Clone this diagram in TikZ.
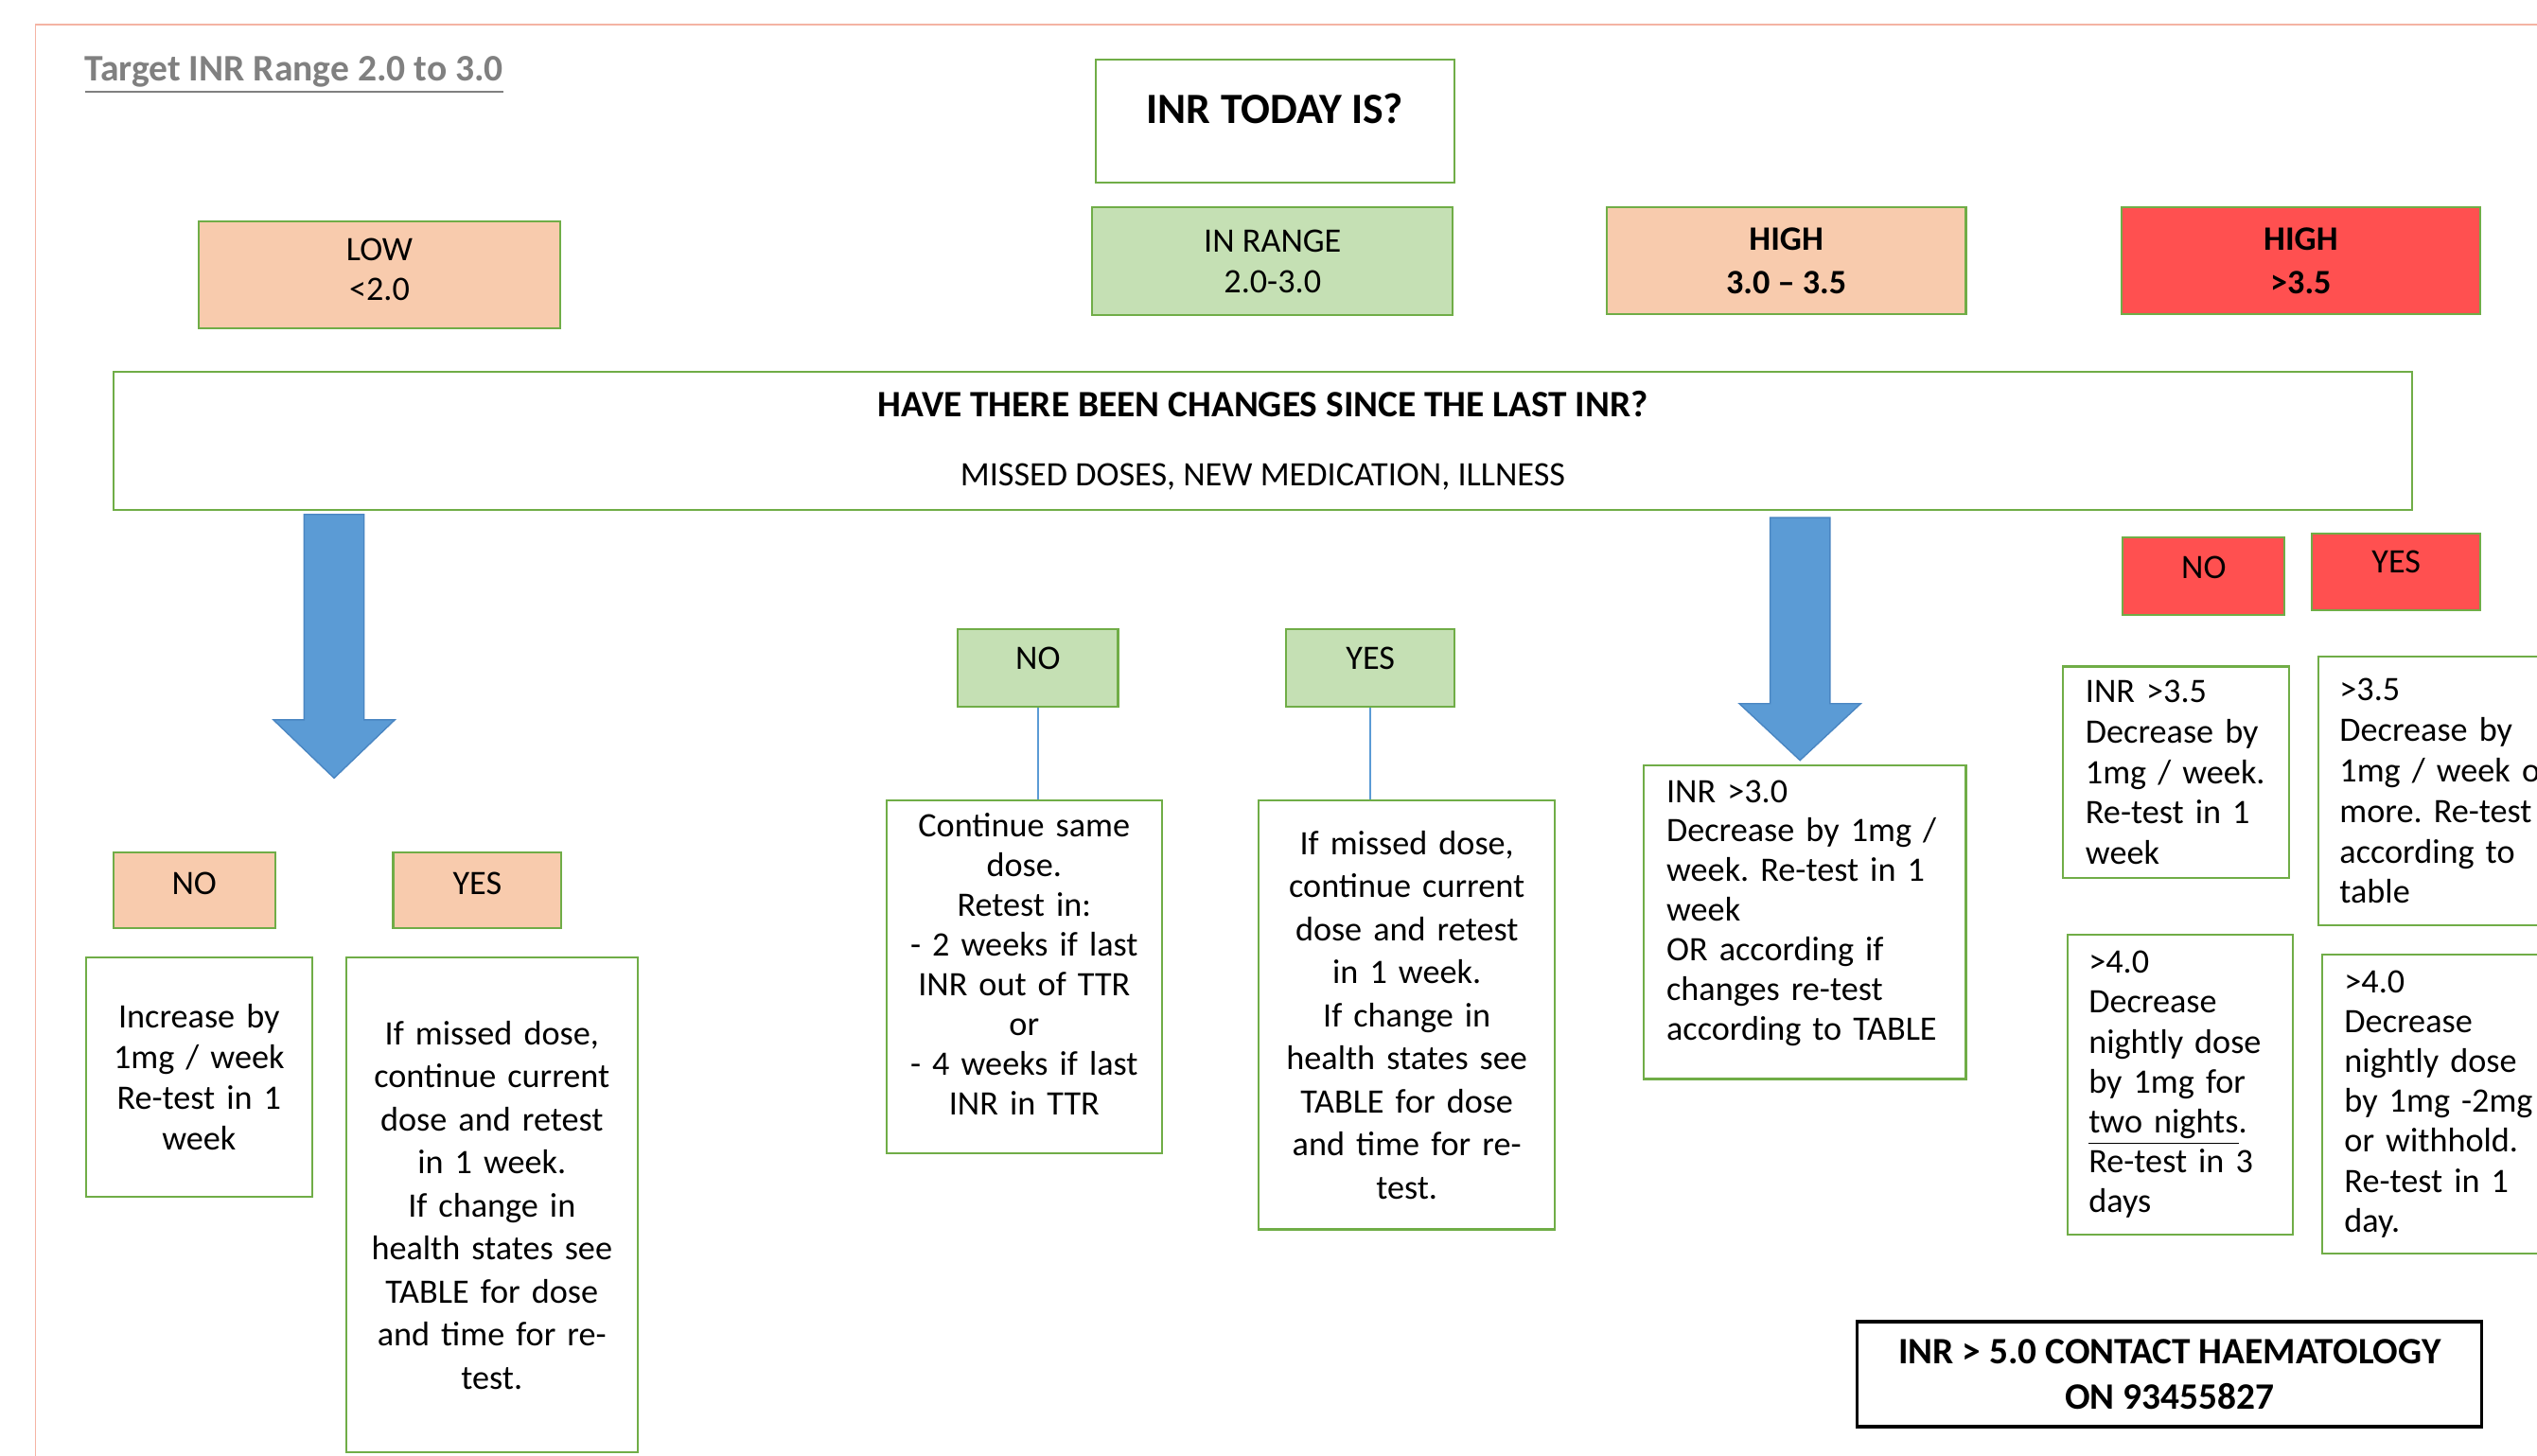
\documentclass[tikz,border=0pt]{standalone}
\usepackage{fontspec}
\setmainfont{Carlito}
\frenchspacing
\definecolor{bordergreen}{HTML}{70AD47}
\definecolor{peach}{HTML}{F8CBAD}
\definecolor{lightgreen}{HTML}{C5E0B4}
\definecolor{alertred}{HTML}{FF5050}
\definecolor{arrowblue}{HTML}{5B9BD5}
\definecolor{arrowedge}{HTML}{4A86C2}
\definecolor{pageline}{HTML}{F4B4A4}
\definecolor{titlegray}{HTML}{808080}
\tikzset{
  x=0.4865pt, y=-0.4865pt,
  rect/.style n args={4}{at={({(#1+#3)/2},{(#2+#4)/2})},
     minimum width={(#3-#1)*0.4865pt}, minimum height={(#4-#2)*0.4865pt}},
  box/.style={draw=bordergreen, line width=0.6pt, inner sep=0pt, align=center,
              font=\fontsize{10.3}{12.2}\selectfont},
  peachbox/.style={box, fill=peach},
  greenbox/.style={box, fill=lightgreen},
  redbox/.style={box, fill=alertred},
  leftbox/.style={box, align=left},
  blockarrow/.style={fill=arrowblue, draw=arrowedge, line width=0.4pt},
  thinlink/.style={draw=arrowblue, line width=0.6pt},
}
\begin{document}
\begin{tikzpicture}
\useasboundingbox (0,0) rectangle (1568,900);
\clip (0,0) rectangle (1568,900);
\draw[pageline, line width=0.5pt] (22,15) rectangle (1620,960);

\node[anchor=base west, inner sep=0pt, text=titlegray,
      font=\bfseries\fontsize{11.26}{13}\selectfont] (title) at (52,50)
  {\underline{Target INR Range 2.0 to 3.0}};

\node[box, rect={677}{37}{899}{113}, font=\bfseries\fontsize{13}{15}\selectfont,
      text depth=7.8pt] (today) {INR TODAY IS?};

\node[peachbox, rect={123}{137}{346}{203}, text depth=3.4pt] (low) {LOW\\<2.0};
\node[greenbox, rect={675}{128}{898}{195}] (inrange) {IN RANGE\\2.0-3.0};
\node[peachbox, rect={993}{128}{1215}{194}, font=\bfseries\fontsize{10.3}{13.1}\selectfont] (highA) {HIGH\\3.0 – 3.5};
\node[redbox, rect={1311}{128}{1533}{194}, font=\bfseries\fontsize{10.3}{13.1}\selectfont] (highB) {HIGH\\>3.5};

\node[box, rect={70}{230}{1491}{315}, font=\fontsize{10.3}{20.9}\selectfont] (changes)
  {{\bfseries\fontsize{11.2}{20.9}\selectfont HAVE THERE BEEN CHANGES SINCE THE LAST INR?}\\MISSED DOSES, NEW MEDICATION, ILLNESS};

% block arrows
\draw[blockarrow] (188,318) -- (225,318) -- (225,445) -- (244,445) -- (206.5,481)
  -- (169,445) -- (188,445) -- cycle;
\draw[blockarrow] (1094,320) -- (1131,320) -- (1131,435) -- (1150,435) -- (1112.5,470)
  -- (1075,435) -- (1094,435) -- cycle;

% LOW branch
\node[peachbox, rect={70}{527}{170}{574}, text depth=4.4pt] (noL) {NO};
\node[peachbox, rect={243}{527}{347}{574}, text depth=4.4pt] (yesL) {YES};
\node[box, rect={53}{592}{193}{740}, text width=60.3pt] (noLb)
  {Increase by\\1mg / week\\Re-test in 1\\week};
\node[box, rect={214}{592}{394}{898}, text width=79.8pt, font=\fontsize{10.3}{12.94}\selectfont] (yesLb)
  {If missed dose,\\continue current\\dose and retest\\in 1 week.\\If change in\\health states see\\TABLE for dose\\and time for re-\\test.};

% IN RANGE branch
\node[greenbox, rect={592}{389}{691}{437}, text depth=5.8pt] (noM) {NO};
\node[greenbox, rect={795}{389}{899}{437}, text depth=5.8pt] (yesM) {YES};
\node[box, rect={548}{495}{718}{713}, text width=74.9pt, font=\fontsize{10.3}{11.97}\selectfont,
      text height=10pt, text depth=94.6pt] (noMb)
  {Continue same\\dose.\\Retest in:\\- 2 weeks if last\\INR out of TTR\\or\\- 4 weeks if last\\INR in TTR};
\node[box, rect={778}{495}{961}{760}, text width=81.2pt, font=\fontsize{10.3}{12.94}\selectfont] (yesMb)
  {If missed dose,\\continue current\\dose and retest\\in 1 week.\\If change in\\health states see\\TABLE for dose\\and time for re-\\test.};
\draw[thinlink] (noM.south) -- (noM.south |- noMb.north);
\draw[thinlink] (yesM.south) -- (yesM.south |- yesMb.north);

% HIGH 3.0-3.5 branch
\node[leftbox, rect={1016}{473}{1215}{667}, text width=83.2pt, font=\fontsize{10.3}{11.9}\selectfont,
      text height=10pt, text depth=82pt] (hiA)
  {INR >3.0\\Decrease by 1mg /\\week. Re-test in 1\\week\\OR according if\\changes re-test\\according to TABLE};

% HIGH >3.5 branch
\node[redbox, rect={1312}{332}{1412}{380}, text depth=4.9pt] (noR) {NO};
\node[redbox, rect={1429}{330}{1533}{377}, text depth=6.3pt] (yesR) {YES};
\node[leftbox, rect={1275}{412}{1415}{543}, text width=54.5pt] (hiB1)
  {INR >3.5\\Decrease by\\1mg / week.\\Re-test in 1\\week};
\node[leftbox, rect={1433}{406}{1599}{572}, text width=68.1pt] (hiB2)
  {>3.5\\Decrease by\\1mg / week or\\more. Re-test\\according to\\table};
\node[leftbox, rect={1278}{578}{1417}{763}, text width=55pt, font=\fontsize{10.3}{12.0}\selectfont] (hiC1)
  {>4.0\\Decrease\\nightly dose\\by 1mg for\\\underline{two nights}.\\Re-test in 3\\days};
\node[leftbox, rect={1435}{590}{1585}{775}, text width=59.4pt, font=\fontsize{10.3}{12.0}\selectfont] (hiC2)
  {>4.0\\Decrease\\nightly dose\\by 1mg -2mg\\or withhold.\\Re-test in 1\\day.};

\node[box, draw=black, line width=0.9pt, rect={1148}{817}{1534}{882},
      font=\bfseries\fontsize{11.2}{13.6}\selectfont] (contact)
  {INR > 5.0 CONTACT HAEMATOLOGY\\ON 93455827};
\end{tikzpicture}
\end{document}
